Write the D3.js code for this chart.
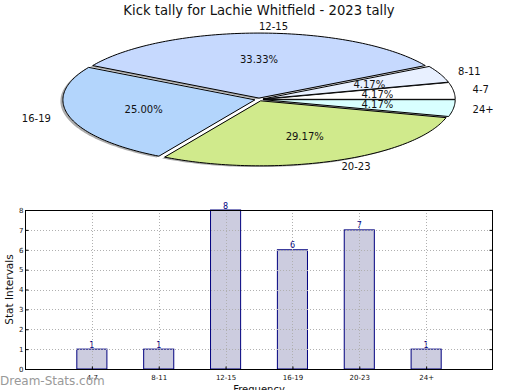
<!DOCTYPE html>
<html><head><meta charset="utf-8">
<script src="https://cdn.jsdelivr.net/npm/d3@7"></script>
<style>body{margin:0;background:#fff;} svg{display:block;font-family:"DejaVu Sans",sans-serif;}</style>
</head><body>
<script>
const title = "Kick tally for Lachie Whitfield - 2023 tally";
const categories = ["4-7","8-11","12-15","16-19","20-23","24+"];
const values = [1,1,8,6,7,1];
const pieColors = ["#ffffff","#e8f0ff","#c6d9fe","#b3d5fc","#d0ea8c","#d9ffff"];
const yTicks = [0,1,2,3,4,5,6,7,8];
const xLabel = "Frequency";
const yLabel = "Stat Intervals";
const watermark = "Dream-Stats.com";

const W = 520, H = 390;
const svg = d3.select("body").append("svg").attr("width", W).attr("height", H);

svg.append("text").attr("x", 259).attr("y", 14.5).attr("text-anchor","middle")
  .attr("font-size", 13.2).attr("fill","#111").text(title);

// ---- Pie (elliptical, counterclockwise from 3 o'clock)
const cx = 259, cy = 99.5, rx = 192, ry = 65, explode = 0.022;
const total = d3.sum(values);
const arcs = d3.pie().sort(null).startAngle(0).endAngle(2*Math.PI)(values);
function slicePath(a, ox, oy) {
  const p = d3.path();
  p.moveTo(cx+ox, cy+oy);
  const n = Math.max(4, Math.ceil((a.endAngle-a.startAngle)/0.02));
  for (let i=0;i<=n;i++){
    const t = a.startAngle + (a.endAngle-a.startAngle)*i/n;
    p.lineTo(cx+ox+rx*Math.cos(t), cy+oy-ry*Math.sin(t));
  }
  p.closePath();
  return p.toString();
}
function offs(a, k){
  const m = (a.startAngle+a.endAngle)/2;
  return [k*rx*Math.cos(m), -k*ry*Math.sin(m)];
}
const gShadow = svg.append("g");
arcs.forEach((a)=>{
  const [ox,oy] = offs(a, explode);
  gShadow.append("path").attr("d", slicePath(a, ox-2.5, oy+1.3))
    .attr("fill","#444").attr("opacity",0.45);
});
const gPie = svg.append("g");
arcs.forEach((a,i)=>{
  const [ox,oy] = offs(a, explode);
  gPie.append("path").attr("d", slicePath(a, ox, oy))
    .attr("fill", pieColors[i]).attr("stroke","#000").attr("stroke-width",1)
    .attr("stroke-linejoin","miter");
});
arcs.forEach((a,i)=>{
  const m = (a.startAngle+a.endAngle)/2;
  const [ox,oy] = offs(a, explode);
  const pct = (100*values[i]/total).toFixed(2)+"%";
  svg.append("text").attr("x", cx+ox+0.6*rx*Math.cos(m)).attr("y", cy+oy-0.6*ry*Math.sin(m))
    .attr("text-anchor","middle").attr("dominant-baseline","central")
    .attr("font-size",10).attr("fill","#111").text(pct);
  const lx = cx+ox+1.1*rx*Math.cos(m), ly = cy+oy-1.1*ry*Math.sin(m);
  svg.append("text").attr("x", lx).attr("y", ly)
    .attr("text-anchor", Math.cos(m) < 0 ? "end" : "start").attr("dominant-baseline","central")
    .attr("font-size",10).attr("fill","#111").text(categories[i]);
});

// ---- Bar chart
const L = 25, R = 493, T = 210, B = 369;
const x = d3.scaleLinear().domain([0, categories.length+1]).range([L, R]);
const y = d3.scaleLinear().domain([0, 8]).range([B, T]);
const bw = 0.45;
const gb = svg.append("g");
gb.selectAll("rect.bar").data(values).join("rect").attr("class","bar")
  .attr("x",(d,i)=>x(i+1-bw/2)).attr("width",x(bw)-x(0))
  .attr("y",d=>y(d)).attr("height",d=>y(0)-y(d))
  .attr("fill","#ccccdf").attr("stroke","#00007f").attr("stroke-width",1);
// grid
const grid = svg.append("g").attr("stroke","#b0b0b0").attr("stroke-width",1).attr("stroke-dasharray","1,2");
yTicks.slice(1,-1).forEach(t=>{
  grid.append("line").attr("x1",L).attr("x2",R).attr("y1",Math.round(y(t))+0.5).attr("y2",Math.round(y(t))+0.5);
});
categories.forEach((c,i)=>{
  grid.append("line").attr("y1",T).attr("y2",B).attr("x1",Math.round(x(i+1))+0.5).attr("x2",Math.round(x(i+1))+0.5);
});
// value labels
gb.selectAll("text.val").data(values).join("text").attr("class","val")
  .attr("x",(d,i)=>x(i+1)).attr("y",d=>y(d)-1.5).attr("text-anchor","middle")
  .attr("font-size",8).attr("fill","#00007f").text(d=>d);
// frame
svg.append("rect").attr("x",L+0.5).attr("y",T+0.5).attr("width",R-L-1).attr("height",B-T)
  .attr("fill","none").attr("stroke","#000").attr("stroke-width",1);
// axes
const yAxis = d3.axisLeft(y).tickValues(yTicks).tickSize(-3).tickPadding(2);
const gy = svg.append("g").attr("transform",`translate(${L+0.5},0)`).call(yAxis);
gy.select(".domain").remove();
gy.selectAll("text").attr("font-size",7).attr("fill","#111").attr("font-family","DejaVu Sans");
gy.selectAll("line").attr("stroke","#000");
const yAxisR = d3.axisRight(y).tickValues(yTicks).tickSize(-3).tickFormat("");
const gyr = svg.append("g").attr("transform",`translate(${R-0.5},0)`).call(yAxisR);
gyr.select(".domain").remove();
const xAxis = d3.axisBottom(x).tickValues(categories.map((c,i)=>i+1)).tickFormat((d)=>categories[d-1]).tickSize(-3).tickPadding(6);
const gx = svg.append("g").attr("transform",`translate(0,${B+0.5})`).call(xAxis);
gx.select(".domain").remove();
gx.selectAll("text").attr("font-size",7).attr("fill","#111").attr("font-family","DejaVu Sans");

svg.append("text").attr("x",259).attr("y",393).attr("text-anchor","middle")
  .attr("font-size",10).attr("fill","#111").text(xLabel);
svg.append("text").attr("transform",`translate(13,${(T+B)/2}) rotate(-90)`).attr("text-anchor","middle")
  .attr("font-size",10.5).attr("fill","#111").text(yLabel);
svg.append("text").attr("x",0).attr("y",385).attr("font-size",12).attr("fill","#999").text(watermark);
</script>
</body></html>
